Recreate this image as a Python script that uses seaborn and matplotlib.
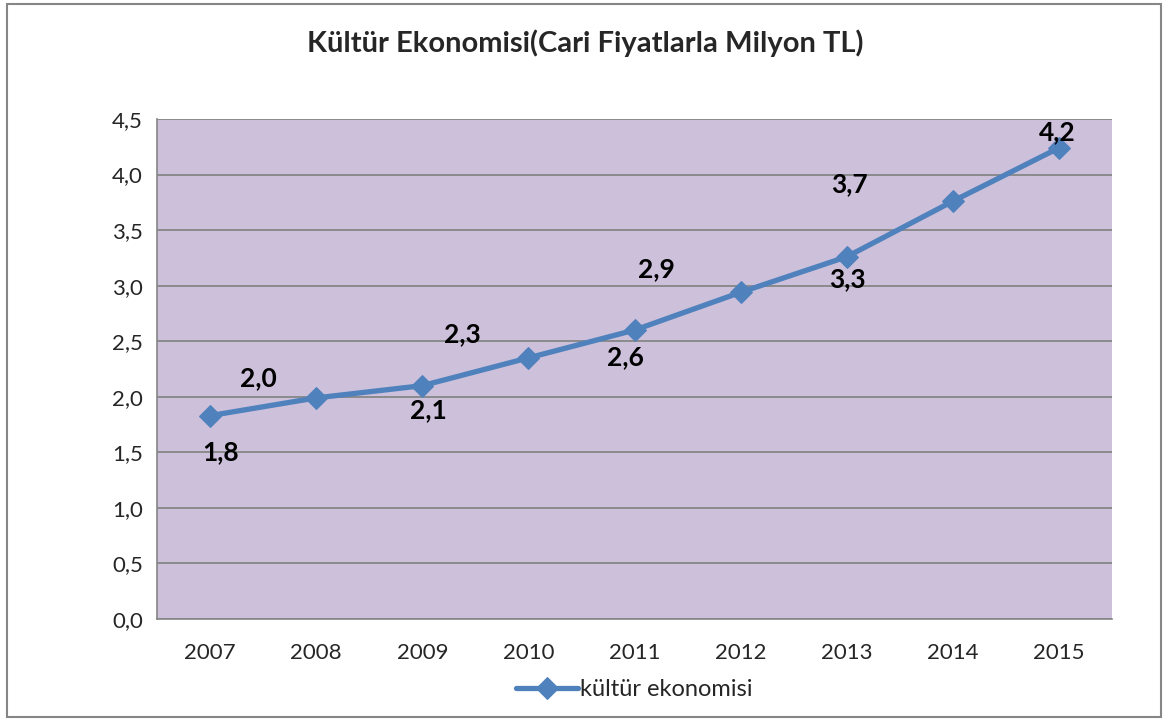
import pandas as pd
import matplotlib.pyplot as plt
import seaborn as sns
from matplotlib.patches import Rectangle

years = [2007, 2008, 2009, 2010, 2011, 2012, 2013, 2014, 2015]
values = [1.83, 1.99, 2.10, 2.35, 2.60, 2.94, 3.26, 3.76, 4.24]
labels = ["1,8", "2,0", "2,1", "2,3", "2,6", "2,9", "3,3", "3,7", "4,2"]
# label offsets in pixels (dx, dy) relative to point, Excel-style placement
offsets = [(11, -36), (-58, 20), (6, -24), (-66, 24), (-9, -27),
           (-84, 23), (1, -22), (-103, 17), (-2, 16)]

df = pd.DataFrame({"year": years, "value": values})

sns.set_style("white")
plt.rcParams['font.family'] = ['Lato', 'DejaVu Sans']

fig = plt.figure(figsize=(11.71, 7.2), dpi=100)
ax = fig.add_axes([157 / 1171, 1 - 619 / 720, (1112 - 157) / 1171, (619 - 119) / 720])

line_color = "#4F81BD"
sns.lineplot(data=df, x="year", y="value", ax=ax, color=line_color, linewidth=3.8,
             marker="D", markersize=11, markeredgecolor=line_color,
             label="kültür ekonomisi", zorder=3)

ax.set_facecolor("#CCC0DA")
ax.set_xlim(2006.5, 2015.5)
ax.set_ylim(0, 4.5)
ax.set_yticks([i * 0.5 for i in range(10)])
ax.set_yticklabels([f"{i * 0.5:.1f}".replace(".", ",") for i in range(10)], fontsize=16)
ax.set_xticks(years)
ax.set_xticklabels([str(y) for y in years], fontsize=16)
ax.set_xticks([y + 0.5 for y in range(2006, 2016)], minor=True)
ax.tick_params(axis="x", which="major", length=0, pad=17)
ax.tick_params(axis="x", which="minor", length=6, color="#868686", width=1.2, direction="out")
ax.tick_params(axis="y", which="major", length=6, color="#868686", width=1.2, direction="out", pad=4)
ax.grid(axis="y", color="#868686", linewidth=1.3)
ax.set_axisbelow(True)
for s in ["top", "right"]:
    ax.spines[s].set_visible(False)
for s in ["left", "bottom"]:
    ax.spines[s].set_color("#868686")
    ax.spines[s].set_linewidth(1.2)
ax.set_xlabel("")
ax.set_ylabel("")

for x, y, lab, (dx, dy) in zip(years, values, labels, offsets):
    ax.annotate(lab, (x, y), xytext=(dx * 0.72, dy * 0.72), textcoords="offset points",
                ha="center", va="center", fontsize=19, fontweight="bold", color="black")

fig.suptitle("Kültür Ekonomisi(Cari Fiyatlarla Milyon TL)", y=1 - 43 / 720,
             fontsize=21, fontweight="bold", va="center")

ax.legend(loc="center", bbox_to_anchor=(0.5, (619 - 690) / 500), frameon=False,
          fontsize=17, handlelength=2.6, handletextpad=0.1, markerscale=1.0)

fig.patches.append(Rectangle((7 / 1171, 3 / 720), 1154 / 1171, 713 / 720,
                             transform=fig.transFigure, fill=False,
                             edgecolor="#868686", linewidth=1.5))

fig.savefig("out.png", dpi=100)
